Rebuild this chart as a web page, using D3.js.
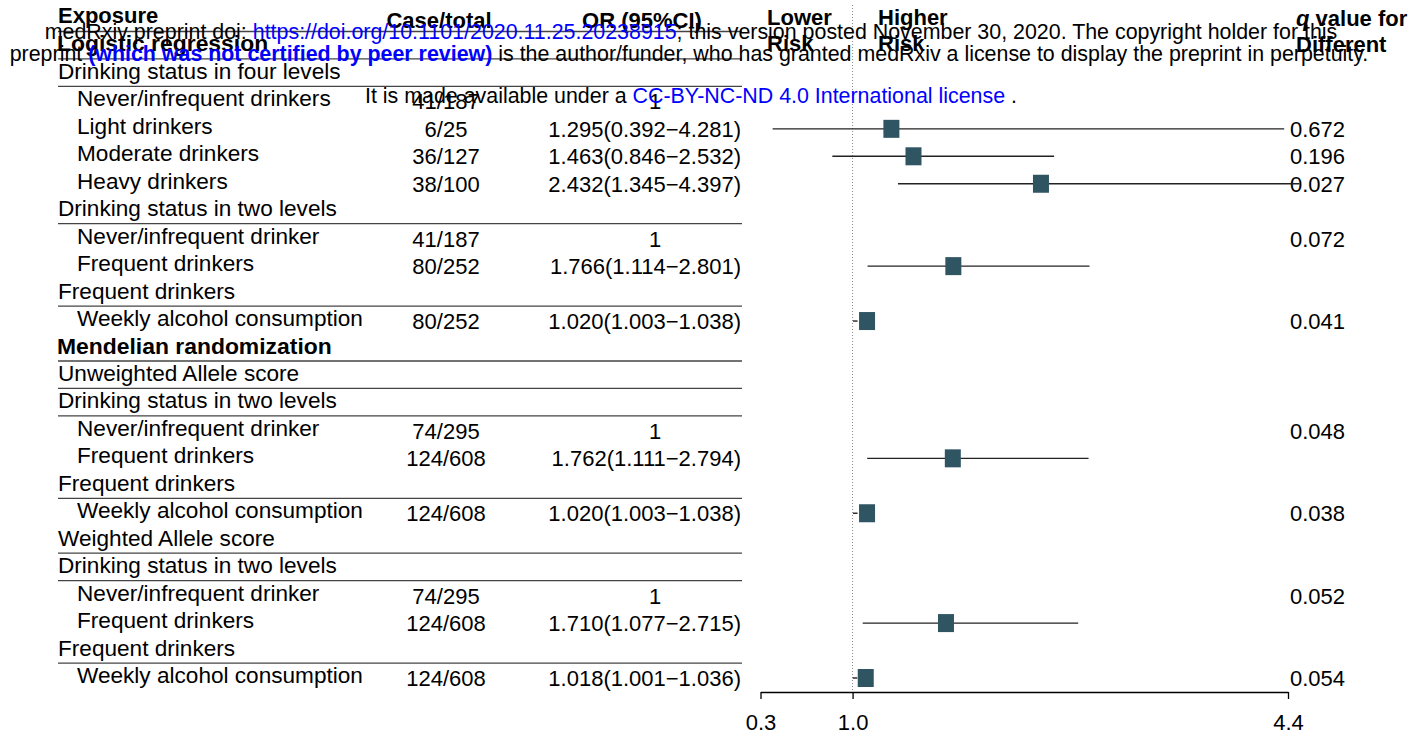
<!DOCTYPE html>
<html>
<head>
<meta charset="utf-8">
<script src="https://cdn.jsdelivr.net/npm/d3@7"></script>
<style>
  body { margin: 0; background: #fff; }
  svg { display: block; font-family: "Liberation Sans", Arial, Helvetica, sans-serif; }
</style>
</head>
<body>
<svg id="forest" width="1426" height="738"></svg>
<script>
// Table rows (row 0 is the header, these are rows 1..24)
const rowLabels = [
    "Logistic regression",
    "Drinking status in four levels",
    "Never/infrequent drinkers",
    "Light drinkers",
    "Moderate drinkers",
    "Heavy drinkers",
    "Drinking status in two levels",
    "Never/infrequent drinker",
    "Frequent drinkers",
    "Frequent drinkers",
    "Weekly alcohol consumption",
    "Mendelian randomization",
    "Unweighted Allele score",
    "Drinking status in two levels",
    "Never/infrequent drinker",
    "Frequent drinkers",
    "Frequent drinkers",
    "Weekly alcohol consumption",
    "Weighted Allele score",
    "Drinking status in two levels",
    "Never/infrequent drinker",
    "Frequent drinkers",
    "Frequent drinkers",
    "Weekly alcohol consumption"
];
// 0 = bold title, 1 = group heading, 2 = indented item
const rowLevels = [0, 1, 2, 2, 2, 2, 1, 2, 2, 1, 2, 0, 1, 1, 2, 2, 1, 2, 1, 1, 2, 2, 1, 2];

const caseTotals = ["", "", "41/187", "6/25", "36/127", "38/100", "", "41/187", "80/252", "", "80/252",
    "", "", "", "74/295", "124/608", "", "124/608", "", "", "74/295", "124/608", "", "124/608"];

const orTexts = ["", "", "1", "1.295(0.392\u22124.281)", "1.463(0.846\u22122.532)", "2.432(1.345\u22124.397)", "",
    "1", "1.766(1.114\u22122.801)", "", "1.020(1.003\u22121.038)",
    "", "", "", "1", "1.762(1.111\u22122.794)", "", "1.020(1.003\u22121.038)",
    "", "", "1", "1.710(1.077\u22122.715)", "", "1.018(1.001\u22121.036)"];

const qValues = ["", "", "", "0.672", "0.196", "0.027", "", "0.072", "", "", "0.041",
    "", "", "", "0.048", "", "", "0.038", "", "", "0.052", "", "", "0.054"];

// Boxes as drawn in the plot (row index into the arrays above)
const boxRows  = [3, 4, 5, 8, 10, 15, 17, 21, 23];
const boxOR    = [1.295, 1.463, 2.432, 1.766, 1.11, 1.762, 1.11, 1.710, 1.10];
const boxLower = [0.392, 0.846, 1.345, 1.114, 1.003, 1.111, 1.003, 1.077, 1.001];
const boxUpper = [4.281, 2.532, 4.397, 2.801, 1.038, 2.794, 1.038, 2.715, 1.036];

// rows that get a rule underneath (grid rows, header = 0)
const ruleAfter = [0, 1, 2, 7, 10, 12, 13, 14, 17, 19, 20, 23];

const tickValues = [0.3, 1.0, 4.31];
const tickLabels = ["0.3", "1.0", "4.4"];

const svg = d3.select("#forest");
const FONT = 22;
const LABEL_FONT = 22.6;
const boxColor = "#2f5563";

const y = d3.scaleLinear().domain([0, 24]).range([24, 683]);
const x = d3.scaleLinear().domain([0.3, 4.31]).range([760.5, 1288]);

// header
const head = svg.append("g").attr("font-weight", "bold").attr("font-size", FONT);
head.append("text").attr("x", 58).attr("y", 23).text("Exposure");
head.append("text").attr("x", 439).attr("y", 28).attr("text-anchor", "middle").text("Case/total");
head.append("text").attr("x", 642).attr("y", 28).attr("text-anchor", "middle").text("OR (95%CI)");
head.append("text").attr("x", 767).attr("y", 25).text("Lower");
head.append("text").attr("x", 767).attr("y", 51).text("Risk");
head.append("text").attr("x", 878).attr("y", 25).text("Higher");
head.append("text").attr("x", 878).attr("y", 51).text("Risk");
const qh = head.append("text").attr("x", 1296).attr("y", 26).attr("text-anchor", "start");
qh.append("tspan").attr("font-style", "italic").text("q");
qh.append("tspan").text(" value for");
head.append("text").attr("x", 1296).attr("y", 52).text("Different");

// horizontal rules
svg.append("g").selectAll("line")
    .data(ruleAfter)
    .join("line")
    .attr("x1", 58).attr("x2", 742)
    .attr("y1", d => y(d) + 7.5).attr("y2", d => y(d) + 7.5)
    .attr("stroke", "#444").attr("stroke-width", 1.3);

// table text
const table = svg.append("g").attr("font-size", FONT).attr("fill", "#000");
table.selectAll("text.label")
    .data(rowLabels)
    .join("text")
    .attr("class", "label")
    .attr("x", (d, i) => rowLevels[i] === 2 ? 77 : (rowLevels[i] === 0 ? 57 : 58))
    .attr("y", (d, i) => y(i + 1))
    .attr("font-size", (d, i) => rowLevels[i] === 0 ? 22.9 : LABEL_FONT)
    .attr("font-weight", (d, i) => rowLevels[i] === 0 ? "bold" : null)
    .text(d => d);

table.selectAll("text.case")
    .data(caseTotals)
    .join("text")
    .attr("class", "case")
    .attr("x", 446)
    .attr("y", (d, i) => y(i + 1) + 3)
    .attr("text-anchor", "middle")
    .text(d => d);

table.selectAll("text.or")
    .data(orTexts)
    .join("text")
    .attr("class", "or")
    .attr("x", d => d === "1" ? 655 : 741)
    .attr("y", (d, i) => y(i + 1) + 3)
    .attr("text-anchor", d => d === "1" ? "middle" : "end")
    .text(d => d);

table.selectAll("text.q")
    .data(qValues)
    .join("text")
    .attr("class", "q")
    .attr("x", 1290)
    .attr("y", (d, i) => y(i + 1) + 3)
    .text(d => d);

// reference line at OR = 1
svg.append("line")
    .attr("x1", x(1)).attr("x2", x(1))
    .attr("y1", 5).attr("y2", 692)
    .attr("stroke", "#888").attr("stroke-width", 1)
    .attr("stroke-dasharray", "1,2");

// confidence intervals and boxes
const plot = svg.append("g");
plot.selectAll("line.ci")
    .data(boxRows)
    .join("line")
    .attr("class", "ci")
    .attr("x1", (d, i) => x(boxLower[i]))
    .attr("x2", (d, i) => x(boxUpper[i]))
    .attr("y1", d => y(d + 1) - 5)
    .attr("y2", d => y(d + 1) - 5)
    .attr("stroke", "#222").attr("stroke-width", 1.4);

plot.selectAll("rect")
    .data(boxRows)
    .join("rect")
    .attr("x", (d, i) => x(boxOR[i]) - 8)
    .attr("y", d => y(d + 1) - 5 - 9)
    .attr("width", 16).attr("height", 18)
    .attr("fill", boxColor);

// x axis
const axis = d3.axisBottom(x)
    .tickValues(tickValues)
    .tickFormat((d, i) => tickLabels[i])
    .tickSize(7)
    .tickSizeOuter(0)
    .tickPadding(15);

const ax = svg.append("g").attr("transform", "translate(0,692)").call(axis);
ax.select(".domain").attr("stroke", "#000").attr("stroke-width", 1.3);
ax.selectAll(".tick line").attr("stroke", "#000").attr("stroke-width", 1.3);
ax.selectAll(".tick text")
    .attr("font-size", FONT)
    .attr("font-family", "Liberation Sans, Arial, sans-serif")
    .attr("fill", "#000");

// medRxiv watermark on top
const wm = svg.append("g").attr("font-size", 21.4).attr("text-anchor", "middle");
const w1 = wm.append("text").attr("x", 691).attr("y", 39);
w1.append("tspan").text("medRxiv preprint doi: ");
w1.append("tspan").attr("fill", "#0000ff").text("https://doi.org/10.1101/2020.11.25.20238915");
w1.append("tspan").text("; this version posted November 30, 2020. The copyright holder for this");
const w2 = wm.append("text").attr("x", 689).attr("y", 61);
w2.append("tspan").text("preprint ");
w2.append("tspan").attr("fill", "#0000ff").attr("font-weight", "bold").text("(which was not certified by peer review)");
w2.append("tspan").text(" is the author/funder, who has granted medRxiv a license to display the preprint in perpetuity.");
const w3 = wm.append("text").attr("x", 691).attr("y", 103);
w3.append("tspan").text("It is made available under a ");
w3.append("tspan").attr("fill", "#0000ff").text("CC-BY-NC-ND 4.0 International license");
w3.append("tspan").text(" .");
</script>
</body>
</html>
